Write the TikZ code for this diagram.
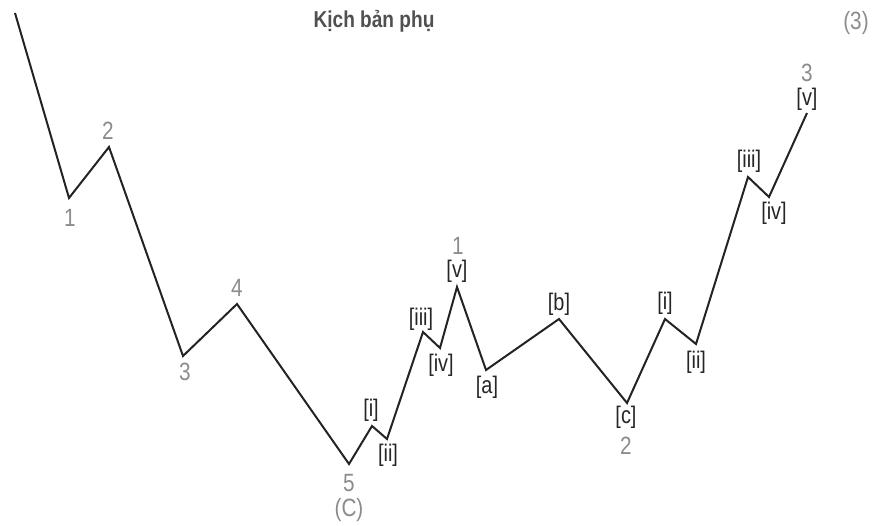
\documentclass[tikz,border=0pt]{standalone}
\usepackage{fontspec}
\setmainfont[FakeStretch=0.83]{Liberation Sans}
\usetikzlibrary{positioning}
\definecolor{wavegray}{RGB}{35,35,35}
\definecolor{cntgray}{RGB}{140,140,140}
\definecolor{titlegray}{RGB}{80,80,80}
\tikzset{
  wave/.style={draw=wavegray, line width=2pt, line join=miter},
  sublbl/.style={font=\fontsize{24}{24}\selectfont, text=black!85, inner sep=0pt},
  cntlbl/.style={font=\fontsize{25}{25}\selectfont, text=cntgray, inner sep=0pt},
  titlelbl/.style={font=\bfseries\fontsize{23}{23}\selectfont, text=titlegray, inner sep=0pt},
}
\begin{document}
\begin{tikzpicture}[x=1pt, y=-1pt]
  \useasboundingbox (0,0) rectangle (880,526);

  % Wave vertices
  \coordinate (w0) at (15,13);
  \coordinate (w1) at (69,198);
  \coordinate (w2) at (109,147);
  \coordinate (w3) at (183,356);
  \coordinate (w4) at (237,304);
  \coordinate (w5) at (349,464);
  \coordinate (c1) at (372,426);
  \coordinate (c2) at (387,439);
  \coordinate (c3) at (423,332);
  \coordinate (c4) at (440,348);
  \coordinate (c5) at (457,287);
  \coordinate (ca) at (486,370);
  \coordinate (cb) at (559,319);
  \coordinate (cc) at (627,403);
  \coordinate (d1) at (665,319);
  \coordinate (d2) at (696,344);
  \coordinate (d3) at (748,177);
  \coordinate (d4) at (769,197);
  \coordinate (d5) at (807,113);

  % The wave
  \draw[wave] (w0) -- (w1) -- (w2) -- (w3) -- (w4) -- (w5)
    -- (c1) -- (c2) -- (c3) -- (c4) -- (c5)
    -- (ca) -- (cb) -- (cc)
    -- (d1) -- (d2) -- (d3) -- (d4) -- (d5);

  % Title
  \node[titlelbl] (title) at (374,21) {Kịch bản phụ};
  \node[cntlbl] (fig) at (856,23) {(3)};

  % Larger degree counts
  \node[cntlbl] (n1) at (70,218) {1};
  \node[cntlbl] (n2) at (108,131) {2};
  \node[cntlbl] (n3) at (185,372) {3};
  \node[cntlbl] (n4) at (237,288) {4};
  \node[cntlbl] (n5) at (349,483) {5};
  \node[cntlbl] (nC) at (349,510) {(C)};
  \node[cntlbl] (m1) at (458,246) {1};
  \node[cntlbl] (m2) at (626,446) {2};
  \node[cntlbl] (m3) at (807,73) {3};

  % Sub-wave labels
  \node[sublbl] (l1) at (371,410) {[i]};
  \node[sublbl] (l2) at (388,455) {[ii]};
  \node[sublbl] (l3) at (421,319) {[iii]};
  \node[sublbl] (l4) at (441,365) {[iv]};
  \node[sublbl] (l5) at (457,271) {[v]};
  \node[sublbl] (la) at (487,387) {[a]};
  \node[sublbl] (lb) at (559,304) {[b]};
  \node[sublbl] (lc) at (626,417) {[c]};
  \node[sublbl] (k1) at (665,303) {[i]};
  \node[sublbl] (k2) at (696,362) {[ii]};
  \node[sublbl] (k3) at (749,161) {[iii]};
  \node[sublbl] (k4) at (774,213) {[iv]};
  \node[sublbl] (k5) at (807,99) {[v]};
\end{tikzpicture}
\end{document}
